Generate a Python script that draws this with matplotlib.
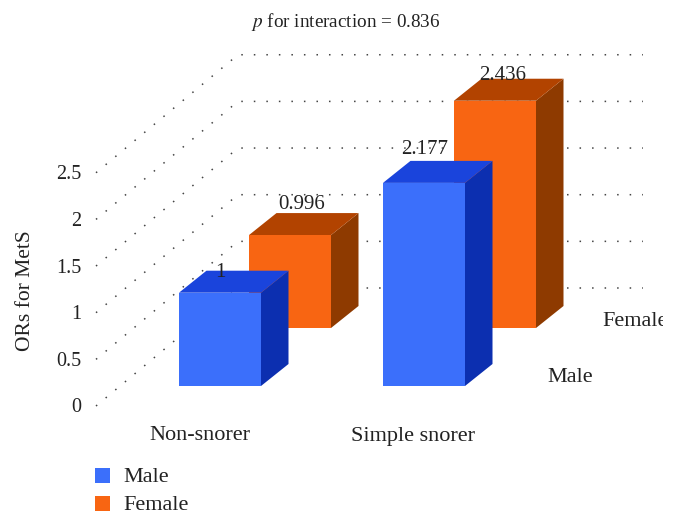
import matplotlib
matplotlib.use('Agg')
import matplotlib.pyplot as plt
from matplotlib.patches import Polygon, Rectangle
from matplotlib.transforms import Bbox

plt.rcParams['font.family'] = ['Liberation Serif', 'DejaVu Serif']

# data
categories = ['Non-snorer', 'Simple snorer']
series_names = ['Male', 'Female']
male_values = [1, 2.177]
female_values = [0.996, 2.436]
male_labels = ['1', '2.177']
female_labels = ['0.996', '2.436']
y_ticks = [0, 0.5, 1, 1.5, 2, 2.5]
y_tick_labels = ['0', '0.5', '1', '1.5', '2', '2.5']

# colours: front, top, side
MALE_COL = ('#3b6ffb', '#1a44dc', '#0c2fb0')
FEMALE_COL = ('#f86512', '#b24300', '#8e3a00')
TXT = '#222222'

W, H = 676, 525
PX_PER_UNIT = 93.3
LEFT_X, LEFT_Y0 = 96, 406   # front end of the floor line
BACK_X, BACK_Y0 = 238, 288  # back corner of the floor line
RIGHT_X = 643
BAR_W = 82
DEPTH_X, DEPTH_Y = 27.5, 22
MALE_X = [179, 383]
FEMALE_X = [249, 454]
MALE_BASE = 386
FEMALE_BASE = 328
FS = 14.5
FS_CAT = 16


def bar3d(ax, x, base, value, cols):
    top = base - value * PX_PER_UNIT
    right = x + BAR_W
    ax.add_patch(Polygon([(right, base), (right + DEPTH_X, base - DEPTH_Y),
                          (right + DEPTH_X, top - DEPTH_Y), (right, top)],
                         closed=True, fc=cols[2], ec='none'))
    ax.add_patch(Polygon([(x, top), (x + DEPTH_X, top - DEPTH_Y),
                          (right + DEPTH_X, top - DEPTH_Y), (right, top)],
                         closed=True, fc=cols[1], ec='none'))
    ax.add_patch(Rectangle((x, top), BAR_W, base - top, fc=cols[0], ec='none'))


fig = plt.figure(figsize=(W / 100, H / 100), dpi=100)
ax = fig.add_axes([0, 0, 1, 1])
ax.set_xlim(0, W)
ax.set_ylim(H, 0)
ax.axis('off')

# dotted walls
for v in y_ticks:
    off = v * PX_PER_UNIT
    ax.plot([LEFT_X, BACK_X, RIGHT_X], [LEFT_Y0 - off, BACK_Y0 - off, BACK_Y0 - off],
            color='#444444', lw=1.1, ls=(0, (1.0, 7.2)), dash_capstyle='butt', zorder=1)

for i in range(len(categories)):
    bar3d(ax, FEMALE_X[i], FEMALE_BASE, female_values[i], FEMALE_COL)
for i in range(len(categories)):
    bar3d(ax, MALE_X[i], MALE_BASE, male_values[i], MALE_COL)

# value labels (hand placed in the original, so offsets differ)
male_off = [(0, 2), (1, -11)]
female_off = [(12, -9), (8, -3)]
for i in range(len(categories)):
    y = MALE_BASE - male_values[i] * PX_PER_UNIT - DEPTH_Y
    ax.text(MALE_X[i] + BAR_W / 2 + male_off[i][0], y + male_off[i][1], male_labels[i],
            ha='center', va='center', fontsize=15, color=TXT, zorder=5)
    y = FEMALE_BASE - female_values[i] * PX_PER_UNIT - DEPTH_Y
    ax.text(FEMALE_X[i] + BAR_W / 2 + female_off[i][0], y + female_off[i][1], female_labels[i],
            ha='center', va='center', fontsize=15, color=TXT, zorder=5)

# y axis
for v, lab in zip(y_ticks, y_tick_labels):
    ax.text(81, 408 - v * PX_PER_UNIT, lab, ha='right', va='center', fontsize=FS, color=TXT)
ax.text(26, 291, 'ORs for MetS', rotation=90, ha='center', va='center', fontsize=15.5, color=TXT)

# category and depth labels
ax.text(200, 435, categories[0], ha='center', va='center', fontsize=FS_CAT, color=TXT)
ax.text(413, 436, categories[1], ha='center', va='center', fontsize=FS_CAT, color=TXT)
ax.text(570, 377, series_names[0], ha='center', va='center', fontsize=FS_CAT, color=TXT)
t = ax.text(602, 321, series_names[1], ha='left', va='center', fontsize=FS_CAT, color=TXT)
t.set_clip_box(Bbox([[0, 0], [663, H]]))
t.set_clip_on(True)

ax.text(346, 22, r'$\mathit{p}$ for interaction = 0.836', ha='center', va='center',
        fontsize=13.8, color=TXT, math_fontfamily='stix')

# legend
for y, name, cols in [(468, series_names[0], MALE_COL), (496, series_names[1], FEMALE_COL)]:
    ax.add_patch(Rectangle((95, y), 14.5, 15, fc=cols[0], ec='none'))
    ax.text(123, y + 10, name, ha='left', va='center', fontsize=FS_CAT, color=TXT)

fig.savefig('out.png', dpi=100)
